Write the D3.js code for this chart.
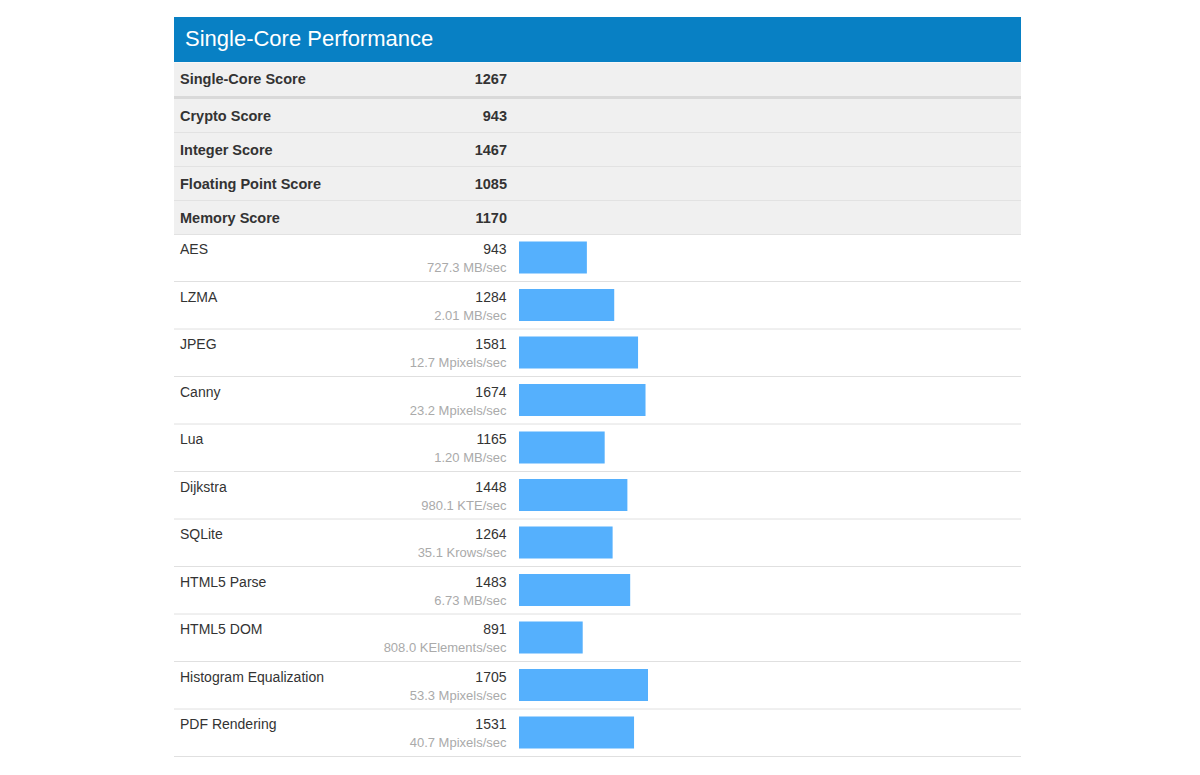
<!DOCTYPE html>
<html>
<head>
<meta charset="utf-8">
<script src="https://cdn.jsdelivr.net/npm/d3@7/dist/d3.min.js"></script>
<style>
  body { margin: 0; background: #fff; }
  svg text { font-family: Arial, "Liberation Sans", Helvetica, sans-serif; }
</style>
</head>
<body>
<div id="chart"></div>
<script>
// summary scores
var scoreNames = ['Single-Core Score', 'Crypto Score', 'Integer Score', 'Floating Point Score', 'Memory Score']
var scoreValues = [1267, 943, 1467, 1085, 1170]

// workloads
var workloads = ['AES', 'LZMA', 'JPEG', 'Canny', 'Lua', 'Dijkstra', 'SQLite', 'HTML5 Parse', 'HTML5 DOM', 'Histogram Equalization', 'PDF Rendering']
var workloadScores = [943, 1284, 1581, 1674, 1165, 1448, 1264, 1483, 891, 1705, 1531]
var workloadRates = ['727.3 MB/sec', '2.01 MB/sec', '12.7 Mpixels/sec', '23.2 Mpixels/sec', '1.20 MB/sec', '980.1 KTE/sec', '35.1 Krows/sec', '6.73 MB/sec', '808.0 KElements/sec', '53.3 Mpixels/sec', '40.7 Mpixels/sec']

var width = 1200, height = 775
var left = 174, right = 1021
var headTop = 17, headBottom = 62

var svg = d3.select('#chart').append('svg')
    .attr('width', width)
    .attr('height', height)

// header
svg.append('rect')
    .attr('x', left).attr('y', headTop)
    .attr('width', right - left).attr('height', headBottom - headTop)
    .attr('fill', '#0880c4')

svg.append('text')
    .attr('x', left + 11).attr('y', 46)
    .attr('fill', '#fff')
    .style('font-size', '22px')
    .text('Single-Core Performance')

// score rows: first row is taller separator below it
var scoreRows = scoreNames.map(function(d, i) {
    return { name: d, value: scoreValues[i], top: i == 0 ? 62.5 : 99 + (i - 1) * 34, h: i == 0 ? 34 : 34 }
})

var srow = svg.selectAll('.srow')
    .data(scoreRows)
    .enter()
    .append('g')
    .attr('class', 'srow')

srow.append('rect')
    .attr('x', left)
    .attr('y', function(d) { return d.top })
    .attr('width', right - left)
    .attr('height', function(d, i) { return i == 0 ? 34 : 34 })
    .attr('fill', '#f0f0f0')

srow.append('line')
    .attr('x1', left).attr('x2', right)
    .attr('y1', function(d, i) { return i == 0 ? 97.5 : d.top + 34 - 0.5 })
    .attr('y2', function(d, i) { return i == 0 ? 97.5 : d.top + 34 - 0.5 })
    .attr('stroke', function(d, i) { return i == 0 ? '#d9d9d9' : '#e2e2e2' })
    .attr('stroke-width', function(d, i) { return i == 0 ? 3 : 1 })

srow.append('text')
    .attr('x', 180)
    .attr('y', function(d) { return d.top + 21.5 })
    .attr('fill', '#333')
    .style('font-size', '14.5px')
    .style('font-weight', 'bold')
    .text(function(d) { return d.name })

srow.append('text')
    .attr('x', 507)
    .attr('y', function(d) { return d.top + 21.5 })
    .attr('fill', '#333')
    .attr('text-anchor', 'end')
    .style('font-size', '14.5px')
    .style('font-weight', 'bold')
    .text(function(d) { return d.value })

// workload rows
var data = workloads.map(function(d, i) {
    return { name: d, score: workloadScores[i], rate: workloadRates[i] }
})

var y = d3.scaleBand()
    .domain(workloads)
    .range([234.5, 757])

var x = d3.scaleLinear()
    .domain([97, 1705])
    .range([519, 648])

var row = svg.selectAll('.wrow')
    .data(data)
    .enter()
    .append('g')
    .attr('class', 'wrow')
    .attr('transform', function(d) { return 'translate(0,' + y(d.name) + ')' })

row.append('line')
    .attr('x1', left).attr('x2', right)
    .attr('y1', y.bandwidth() - 0.5)
    .attr('y2', y.bandwidth() - 0.5)
    .attr('stroke', '#e0e0e0')

row.append('text')
    .attr('x', 180)
    .attr('y', 19.5)
    .attr('fill', '#333')
    .style('font-size', '14px')
    .text(function(d) { return d.name })

row.append('text')
    .attr('x', 506.5)
    .attr('y', 19.5)
    .attr('fill', '#333')
    .attr('text-anchor', 'end')
    .style('font-size', '14px')
    .text(function(d) { return d.score })

row.append('text')
    .attr('x', 506.5)
    .attr('y', 37.5)
    .attr('fill', '#aaa')
    .attr('text-anchor', 'end')
    .style('font-size', '13px')
    .text(function(d) { return d.rate })

row.append('rect')
    .attr('x', x(97))
    .attr('y', 7)
    .attr('width', function(d) { return x(d.score) - x(97) })
    .attr('height', 32)
    .attr('fill', '#55b0fd')
</script>
</body>
</html>
